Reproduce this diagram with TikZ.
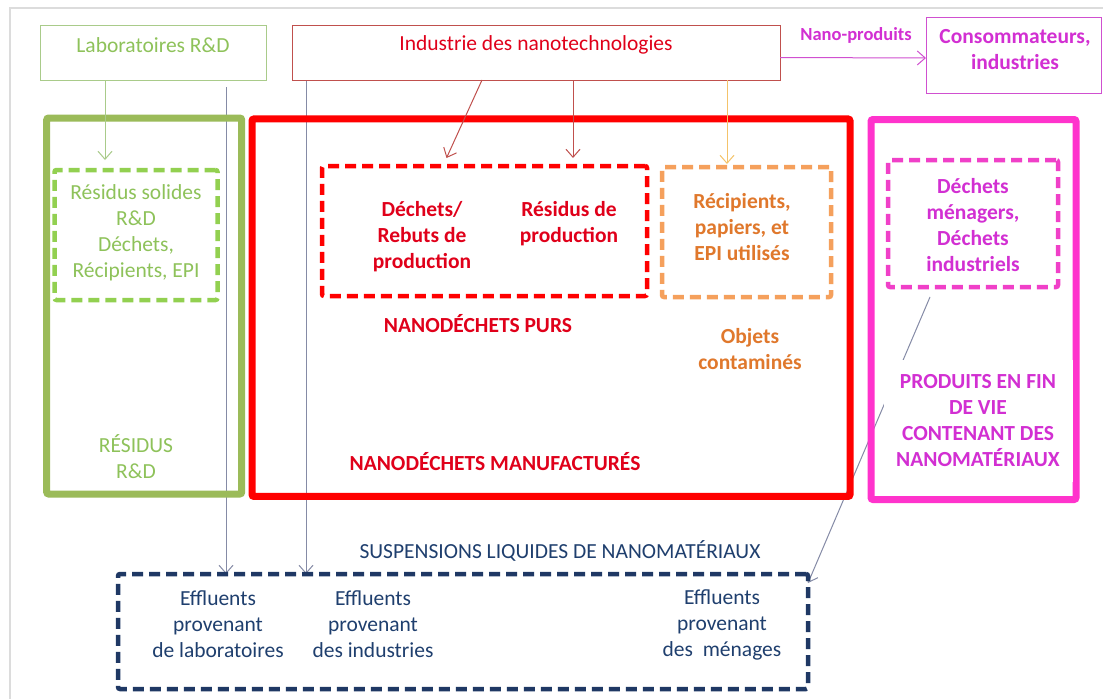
\documentclass[tikz,border=0pt]{standalone}
\usepackage{fontspec}
\setmainfont{Carlito}
\usetikzlibrary{arrows.meta,backgrounds}
\definecolor{gThick}{HTML}{9BBB59}
\definecolor{gDash}{HTML}{92D050}
\definecolor{gText}{HTML}{8EC25A}
\definecolor{gThin}{HTML}{A9CB8A}
\definecolor{rThick}{HTML}{FF0000}
\definecolor{rText}{HTML}{E0001A}
\definecolor{rThin}{HTML}{C0504D}
\definecolor{oDash}{HTML}{F5A05C}
\definecolor{oText}{HTML}{E0782C}
\definecolor{oArrow}{HTML}{F4C36A}
\definecolor{mThick}{HTML}{FF33CC}
\definecolor{mDash}{HTML}{F040C8}
\definecolor{mText}{HTML}{D22FD2}
\definecolor{mThin}{HTML}{D050D0}
\definecolor{nDash}{HTML}{1F3864}
\definecolor{nText}{HTML}{1F3F6E}
\definecolor{greyLine}{HTML}{858BA6}
\definecolor{frameGrey}{HTML}{DCDCDC}
\begin{document}
\begin{tikzpicture}[x=1pt,y=-1pt,
  every node/.style={font=\fontsize{21.5}{26}\selectfont, align=center, inner sep=0pt, outer sep=0pt},
  thinbox/.style={draw, line width=1pt, rectangle},
  thickbox/.style={draw, line width=7pt, rectangle, rounded corners=2pt},
  dashbox/.style={draw, line width=4.5pt, rectangle, rounded corners=2pt, dash pattern=on 11pt off 6pt},
  arr/.style={line width=1pt, -{Straight Barb[length=8pt,width=14pt]}},
  bf/.style={font=\fontsize{21.5}{26}\selectfont\bfseries}]
\useasboundingbox (0,0) rectangle (1103,699);

% top boxes
\node[thinbox, draw=gThin, minimum width=226pt, minimum height=55pt] (lab) at (153,52.5) {};
\node[text=gText] (labt) at (153,45) {Laboratoires R\&D};
\node[thinbox, draw=rThin, minimum width=488pt, minimum height=55pt] (ind) at (536,52.5) {};
\node[text=rText] (indt) at (536,45) {Industrie des nanotechnologies};
\node[thinbox, draw=mThin, minimum width=175pt, minimum height=76pt] (cons) at (1013.5,55) {};
\node[text=mText, bf] (const) at (1015,49.5) {Consommateurs,\\industries};
\node[text=mText, font=\fontsize{18.5}{20}\selectfont\bfseries] (np) at (856,35) {Nano-produits};

% big boxes
\node[thickbox, draw=gThick, minimum width=195pt, minimum height=376pt] (green) at (144.2,306) {};
\node[dashbox, draw=gDash, minimum width=163pt, minimum height=130pt] (greenin) at (136,235) {};
\node[text=gText] (gt1) at (136,232.5) {Résidus solides\\R\&D\\Déchets,\\Récipients, EPI};
\node[text=gText] (gt2) at (136,456.5) {RÉSIDUS\\R\&D};

\node[thickbox, draw=rThick, minimum width=598pt, minimum height=377.5pt] (red) at (551,307.7) {};
\node[dashbox, draw=rThick, minimum width=325pt, minimum height=130pt] (redin) at (484.5,231) {};
\node[text=rText, bf] (rt1) at (422,237) {Déchets/\\Rebuts de\\production};
\node[text=rText, bf] (rt2) at (569,223.5) {Résidus de\\production};
\node[text=rText, bf] (rt3) at (478,324) {NANODÉCHETS PURS};
\node[text=rText, bf] (rt4) at (495,462) {NANODÉCHETS MANUFACTURÉS};

\node[dashbox, draw=oDash, minimum width=169pt, minimum height=130pt] (orin) at (746.5,232) {};
\node[text=oText, bf] (ot1) at (742,227) {Récipients,\\papiers, et\\EPI utilisés};
\node[text=oText, bf] (ot2) at (750,349.5) {Objets\\contaminés};

\node[thickbox, draw=mThick, minimum width=205pt, minimum height=380pt] (mag) at (973.5,309.5) {};
\node[dashbox, draw=mDash, minimum width=170pt, minimum height=127pt] (magin) at (973,223.5) {};
\node[text=mText, bf] (mt1) at (973,225.5) {Déchets\\ménagers,\\Déchets\\industriels};
\node[fill=white, minimum width=189pt, minimum height=122pt] (mtbg) at (978,421) {};
\node[text=mText, bf] (mt2) at (978,421) {PRODUITS EN FIN\\DE VIE\\CONTENANT DES\\NANOMATÉRIAUX};

% bottom box
\node[dashbox, draw=nDash, minimum width=690pt, minimum height=115pt] (navy) at (463,631.5) {};
\node[text=nText] (nt0) at (560,551) {SUSPENSIONS LIQUIDES DE NANOMATÉRIAUX};
\node[text=nText] (nt1) at (218,624.5) {Effluents\\provenant\\de laboratoires};
\node[text=nText] (nt2) at (373,624.5) {Effluents\\provenant\\des industries};
\node[text=nText] (nt3) at (722,624.5) {Effluents\\provenant\\des \ ménages};

\coordinate (g1) at (226,87);
\coordinate (g2) at (306,80);

\begin{scope}[on background layer]
\fill[white] (0,0) rectangle (1103,699);
\draw[frameGrey, line width=2pt] (10,699) -- (10,8) -- (1103,8);
\draw[arr, greyLine] (g1) -- (g1 |- navy.north);
\draw[arr, greyLine] (g2) -- (g2 |- navy.north);
\draw[arr, greyLine] ([xshift=-43pt,yshift=-10pt]magin.south) -- ([yshift=-9pt]navy.north east);
\end{scope}

\draw[arr, gThin] ([xshift=-48pt]lab.south) -- ([xshift=-31pt,yshift=10pt]greenin.north);
\draw[arr, rThin] ([xshift=-54pt]ind.south) -- ([xshift=-38pt,yshift=8pt]redin.north);
\draw[arr, rThin] ([xshift=37pt]ind.south) -- ([xshift=88.5pt,yshift=8pt]redin.north);
\draw[arr, oArrow] ([xshift=191pt]ind.south) -- ([xshift=-19.5pt,yshift=3pt]orin.north);
\draw[arr, mThin] ([yshift=-5pt]ind.east) -- ([yshift=-3pt]cons.west);
\end{tikzpicture}
\end{document}
